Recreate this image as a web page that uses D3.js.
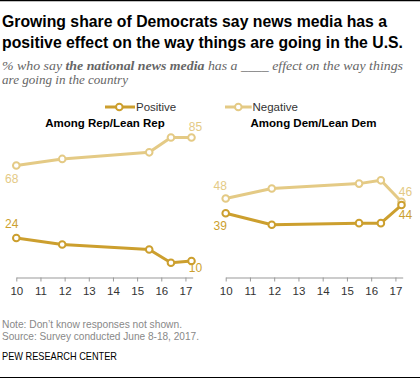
<!DOCTYPE html>
<html>
<head>
<meta charset="utf-8">
<script src="https://cdn.jsdelivr.net/npm/d3@7/dist/d3.min.js"></script>
<style>
  html, body { margin: 0; padding: 0; background: #fff; }
  svg { display: block; }
  text { font-family: "Liberation Sans", Arial, sans-serif; }
</style>
</head>
<body>
<svg id="chart" width="420" height="379"></svg>
<script>
// ---- data ----
const years = [10, 11.9, 15.5, 16.4, 17.25];
const tickYears = [10, 11, 12, 13, 14, 15, 16, 17];
const repPositive = [24, 20, 17, 9, 10];
const repNegative = [68, 72, 76, 85, 85];
const demPositive = [39, 32, 33, 33, 44];
const demNegative = [48, 54, 57, 59, 46];
const seriesNames = ["Positive", "Negative"];
const panelTitles = ["Among Rep/Lean Rep", "Among Dem/Lean Dem"];

const titleLines = ["Growing share of Democrats say news media has a",
                    "positive effect on the way things are going in the U.S."];
const noteLines = ["Note: Don\u2019t know responses not shown.",
                   "Source: Survey conducted June 8-18, 2017."];
const credit = "PEW RESEARCH CENTER";

const colPos = "#CC9F2E";
const colNeg = "#E4CA85";

const svg = d3.select("#chart");

// rules
svg.append("line").attr("x1", 0).attr("x2", 420).attr("y1", 0.5).attr("y2", 0.5)
  .attr("stroke", "#000").attr("stroke-width", 1.5);
svg.append("line").attr("x1", 0).attr("x2", 420).attr("y1", 377.5).attr("y2", 377.5)
  .attr("stroke", "#000").attr("stroke-width", 1);

// title
const tLens = [385, 401];
titleLines.forEach((t, i) => {
  svg.append("text").attr("x", 2).attr("y", 27 + i * 21)
    .attr("font-size", 16.5).attr("font-weight", "bold").attr("fill", "#000")
    .attr("textLength", tLens[i]).attr("lengthAdjust", "spacingAndGlyphs")
    .text(t);
});

// subtitle
const sub1 = svg.append("text").attr("x", 2).attr("y", 70)
  .style("font-family", "'Liberation Serif', 'Times New Roman', serif")
  .attr("font-size", 13).attr("font-style", "italic").attr("fill", "#666")
  .attr("textLength", 401).attr("lengthAdjust", "spacingAndGlyphs");
sub1.append("tspan").text("% who say ");
sub1.append("tspan").attr("font-weight", "bold").text("the national news media");
sub1.append("tspan").text(" has a ____ effect on the way things");
svg.append("text").attr("x", 2).attr("y", 84)
  .style("font-family", "'Liberation Serif', 'Times New Roman', serif")
  .attr("font-size", 13).attr("font-style", "italic").attr("fill", "#666")
  .attr("textLength", 126).attr("lengthAdjust", "spacingAndGlyphs")
  .text("are going in the country");

// scales
const y = d3.scaleLinear().domain([0, 100]).range([277.5, 112.8]);
const xL = d3.scaleLinear().domain([10, 17.3]).range([16.3, 192.7]);
const xR = d3.scaleLinear().domain([10, 17.3]).range([225.7, 402.7]);

const panels = [
  { x: xL, pos: repPositive, neg: repNegative, title: panelTitles[0], titleX: 105,
    labels: [
      { s: "neg", i: 0, dx: -4.5, dy: 17 },
      { s: "neg", i: 4, dx: 4, dy: -7 },
      { s: "pos", i: 0, dx: -4.5, dy: -10 },
      { s: "pos", i: 4, dx: 4, dy: 11 }
    ] },
  { x: xR, pos: demPositive, neg: demNegative, title: panelTitles[1], titleX: 313.5,
    labels: [
      { s: "neg", i: 0, dx: -5.5, dy: -8.5 },
      { s: "pos", i: 0, dx: -5.5, dy: 17 },
      { s: "neg", i: 4, dx: 4, dy: -5.5 },
      { s: "pos", i: 4, dx: 4, dy: 14 }
    ] }
];

panels.forEach(p => {
  // axis
  const ax = svg.append("g").attr("transform", "translate(0,277.5)")
    .call(d3.axisBottom(p.x).tickValues(tickYears).tickFormat(d3.format("d"))
      .tickSize(4).tickSizeOuter(0).tickPadding(5));
  ax.select(".domain").attr("stroke", "#999");
  ax.selectAll(".tick line").attr("stroke", "#999");
  ax.selectAll(".tick text").attr("font-size", 11.5).attr("fill", "#333")
    .style("font-family", "'Liberation Sans', Arial, sans-serif");

  // panel title
  svg.append("text").attr("x", p.titleX).attr("y", 127.3).attr("text-anchor", "middle")
    .attr("font-size", 11.5).attr("font-weight", "bold").attr("fill", "#000")
    .text(p.title);

  const line = d3.line().x((d, i) => p.x(years[i])).y(d => y(d));
  const draw = (vals, col) => {
    svg.append("path").datum(vals).attr("d", line).attr("fill", "none")
      .attr("stroke", col).attr("stroke-width", 3).attr("stroke-linejoin", "round");
    svg.selectAll(null).data(vals).enter().append("circle")
      .attr("cx", (d, i) => p.x(years[i])).attr("cy", d => y(d)).attr("r", 3.3)
      .attr("fill", "#fff").attr("stroke", col).attr("stroke-width", 2);
  };
  draw(p.neg, colNeg);
  draw(p.pos, colPos);

  p.labels.forEach(l => {
    const vals = l.s === "pos" ? p.pos : p.neg;
    svg.append("text")
      .attr("x", p.x(years[l.i]) + l.dx).attr("y", y(vals[l.i]) + l.dy)
      .attr("text-anchor", "middle").attr("font-size", 12)
      .attr("fill", l.s === "pos" ? colPos : colNeg)
      .text(vals[l.i]);
  });
});

// legends
const legends = [
  { name: seriesNames[0], col: colPos, x1: 105, x2: 135, cx: 119.3, tx: 136 },
  { name: seriesNames[1], col: colNeg, x1: 225, x2: 251.7, cx: 238.3, tx: 252.5 }
];
legends.forEach(l => {
  svg.append("line").attr("x1", l.x1).attr("x2", l.x2).attr("y1", 107).attr("y2", 107)
    .attr("stroke", l.col).attr("stroke-width", 3);
  svg.append("circle").attr("cx", l.cx).attr("cy", 107).attr("r", 3.3)
    .attr("fill", "#fff").attr("stroke", l.col).attr("stroke-width", 2);
  svg.append("text").attr("x", l.tx).attr("y", 111).attr("font-size", 11.5)
    .attr("fill", "#333").text(l.name);
});

// notes
const nLens = [180, 197];
noteLines.forEach((t, i) => {
  svg.append("text").attr("x", 2).attr("y", 328 + i * 12.3)
    .attr("font-size", 10.5).attr("fill", "#888")
    .attr("textLength", nLens[i]).attr("lengthAdjust", "spacingAndGlyphs")
    .text(t);
});
svg.append("text").attr("x", 2).attr("y", 359.5)
  .attr("font-size", 10.5).attr("fill", "#000")
  .attr("textLength", 115).attr("lengthAdjust", "spacingAndGlyphs")
  .text(credit);
</script>
</body>
</html>
